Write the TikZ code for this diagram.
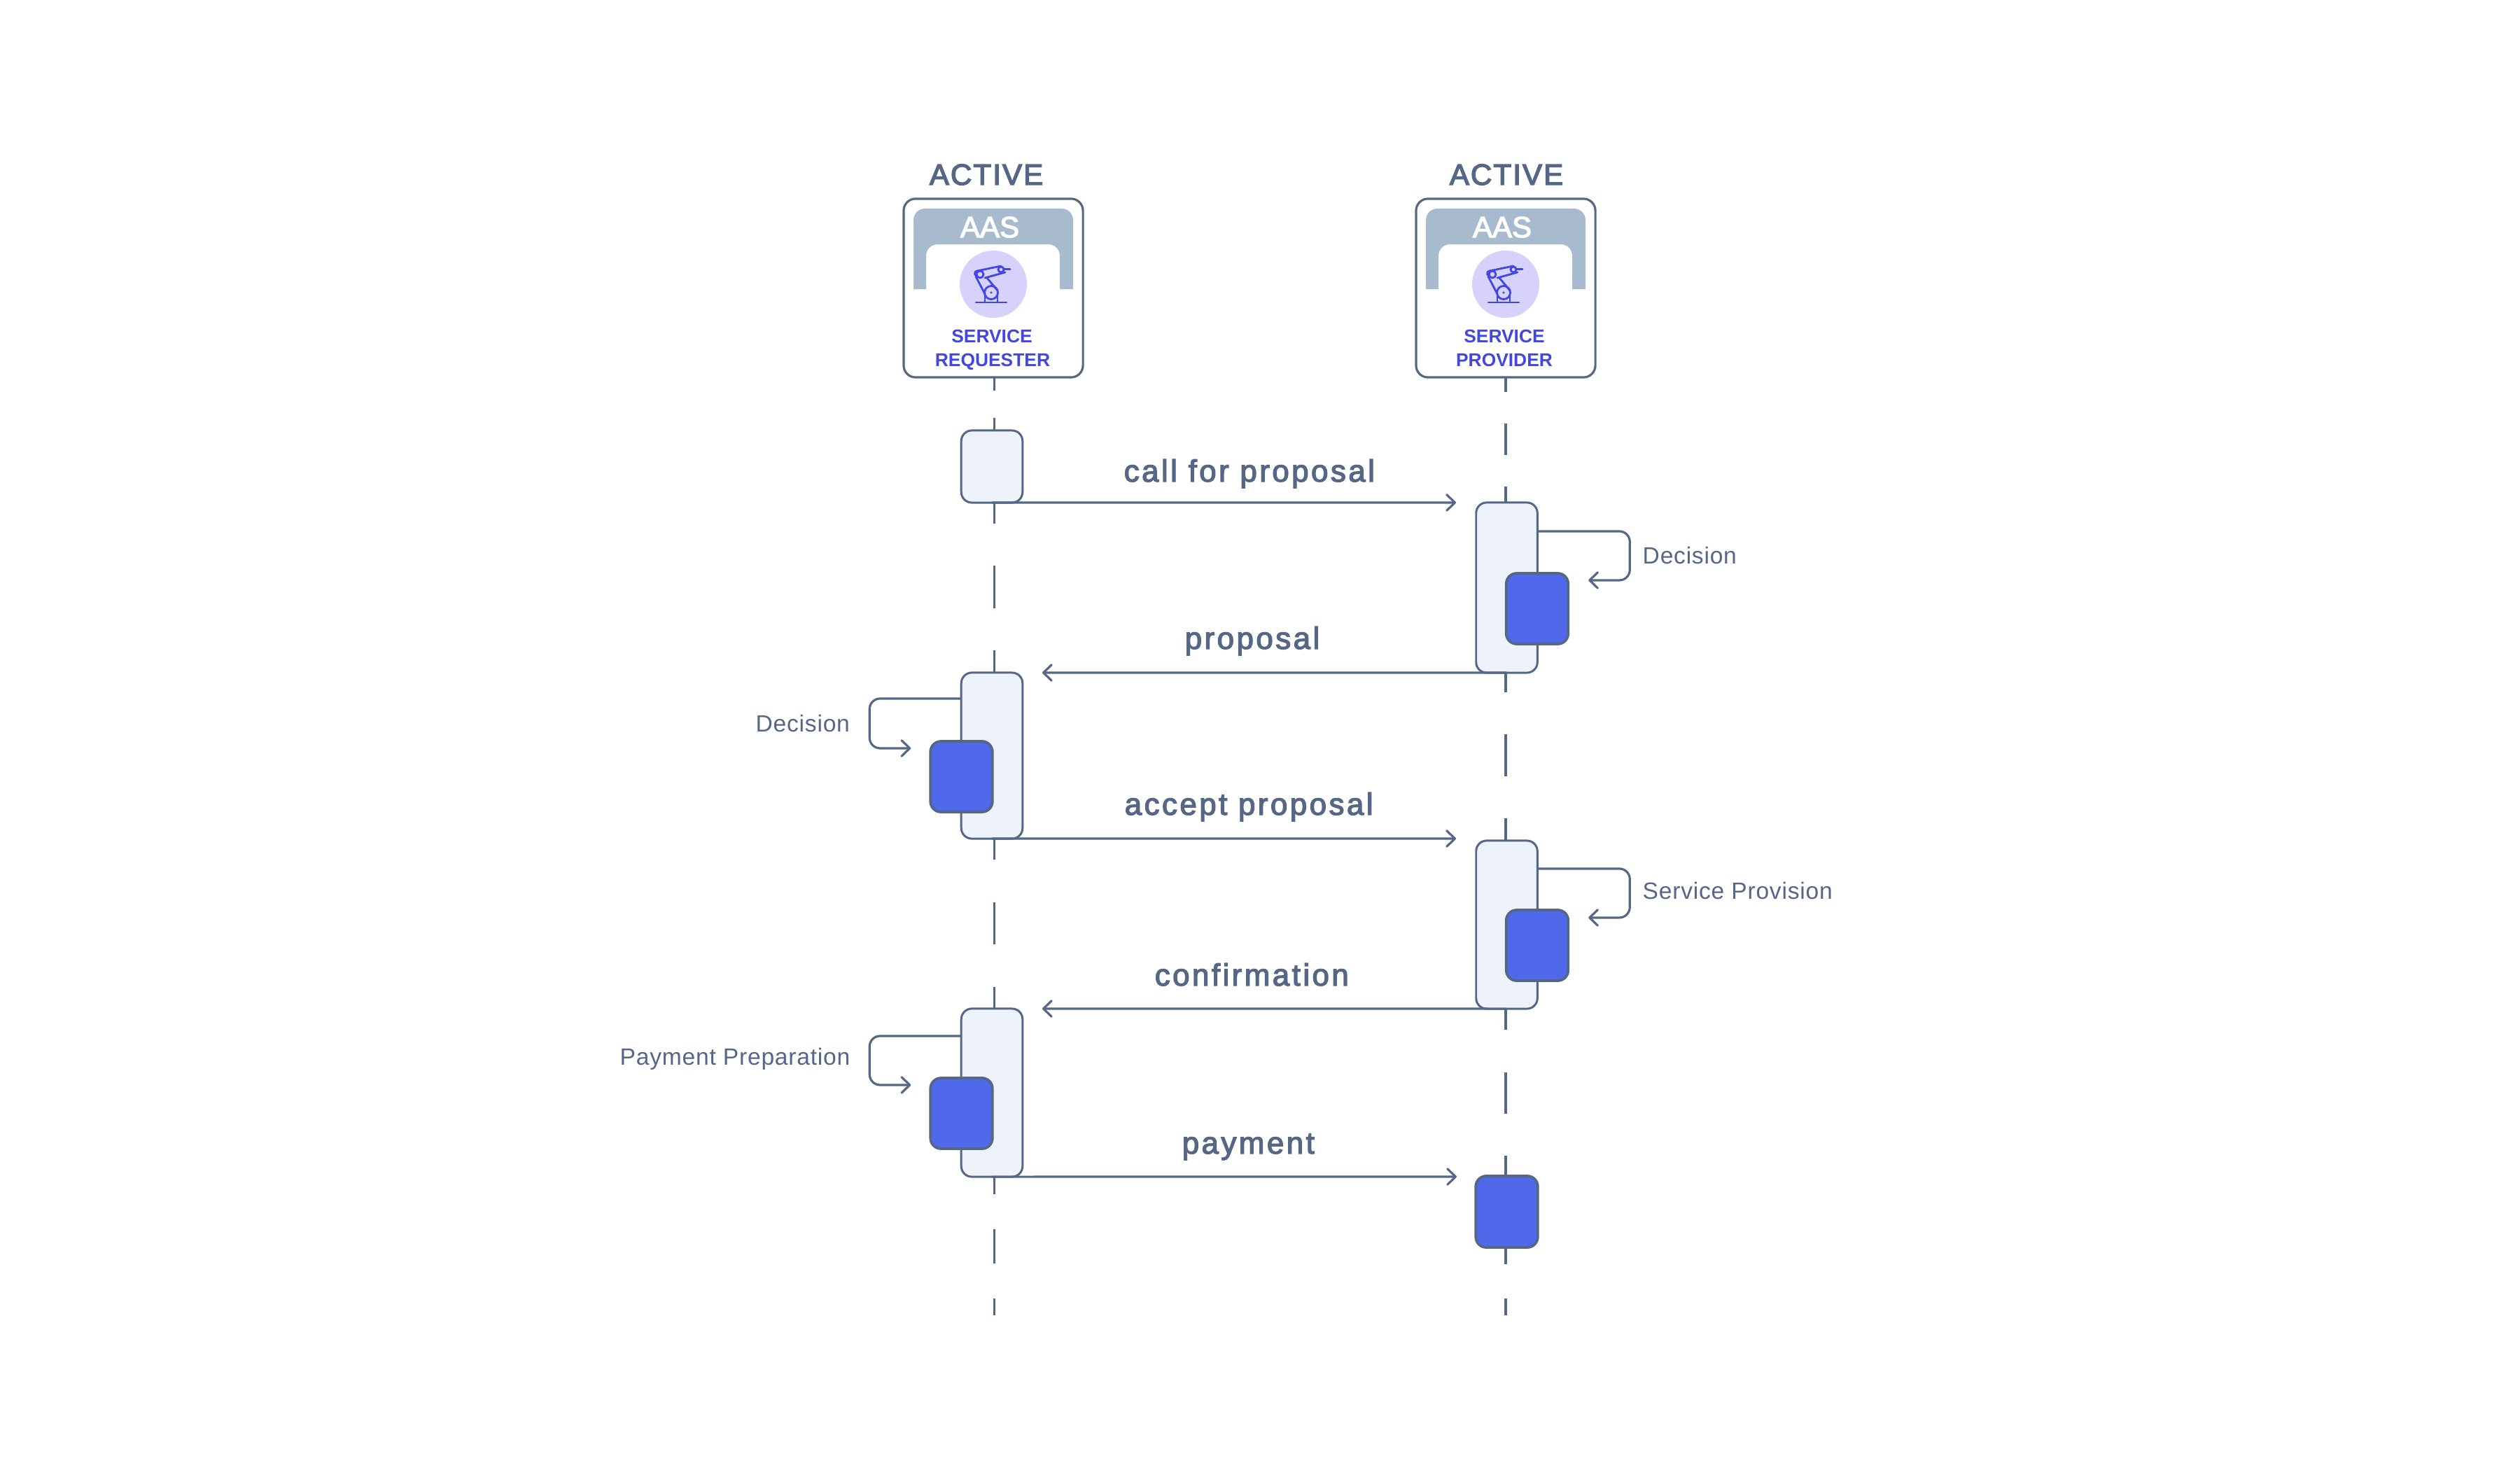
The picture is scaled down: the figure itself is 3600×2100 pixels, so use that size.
\documentclass[tikz,border=0pt]{standalone}
\usepackage{fontspec}
\usetikzlibrary{arrows.meta}
\setmainfont{Liberation Sans}
\newfontfamily\headfont[LetterSpace=5,FakeBold=3.5]{Liberation Sans}
\newfontfamily\aasfont[LetterSpace=0,FakeBold=3]{Liberation Sans}
\newfontfamily\msgfont[LetterSpace=7.8,FakeBold=3]{Liberation Sans}
\newfontfamily\notefont[LetterSpace=2.3]{Liberation Sans}
\newfontfamily\rolefont[LetterSpace=0]{Liberation Sans Bold}
\definecolor{ink}{HTML}{566786}
\definecolor{lightfill}{HTML}{EDF2FB}
\definecolor{bluefill}{HTML}{5068EA}
\definecolor{archfill}{HTML}{A8BACD}
\definecolor{discfill}{HTML}{D6D2FB}
\definecolor{roleblue}{HTML}{4347E0}
\tikzset{
  flow/.style={draw=ink,line width=0.9pt,-{Straight Barb[length=3.3pt,width=6.4pt,line width=0.9pt,round]}},
  lifeline/.style={draw=ink,line width=0.9pt},
  agentbox/.style={draw=ink,line width=0.9pt,fill=white,rounded corners=0.17cm,minimum width=2.56cm,minimum height=2.55cm,inner sep=0pt,outer sep=0pt},
  active/.style={draw=ink,line width=0.85pt,fill=lightfill,rounded corners=0.15cm,minimum width=0.875cm,inner sep=0pt,outer sep=0pt},
  work/.style={draw=ink,line width=1.05pt,fill=bluefill,rounded corners=0.15cm,minimum width=0.885cm,inner sep=0pt,outer sep=0pt},
  msg/.style={text=ink,anchor=base west,inner sep=0pt,font=\msgfont\fontsize{12.5pt}{15pt}\selectfont},
  note/.style={text=ink,anchor=base west,inner sep=0pt,font=\notefont\fontsize{9.55pt}{12pt}\selectfont},
  head/.style={text=ink,anchor=base,inner sep=0pt,font=\headfont\fontsize{11.95pt}{14pt}\selectfont},
  aas/.style={text=white,anchor=base,inner sep=0pt,font=\aasfont\fontsize{11.95pt}{14pt}\selectfont},
  role/.style={text=roleblue,anchor=base,inner sep=0pt,font=\rolefont\fontsize{7.5pt}{9pt}\selectfont},
}
\newcommand{\agentart}[1]{%
  \begin{scope}[shift={(#1,0)}]
    \fill[archfill] (1305,412) -- (1305,314) .. controls (1305,304) and (1312,297) .. (1322,297)
      -- (1516,297) .. controls (1526,297) and (1533,304) .. (1533,314) -- (1533,412) -- (1514,412)
      -- (1514,365) .. controls (1514,355) and (1507,348) .. (1497,348) -- (1340,348)
      .. controls (1330,348) and (1323,355) .. (1323,365) -- (1323,412) -- cycle;
    \fill[discfill] (1419,405) circle (0.48cm);
    \begin{scope}[draw=roleblue,line width=0.8pt,line cap=round,line join=round]
      \draw (1394,431) -- (1438,431);
      \draw (1407,431) -- (1407,418);
      \draw (1425,431) -- (1425,413);
      \draw (1416,417) circle (0.095cm);
      \draw (1394,394) -- (1407,419);
      \draw (1410,396) -- (1425,414);
      \draw (1400,391) circle (0.05cm);
      \draw (1430,384) circle (0.04cm);
      \draw (1407,396) -- (1436,388);
      \draw (1393,392) .. controls (1392,388) and (1393,387) .. (1396,386) -- (1430,379);
      \draw (1435,383.5) -- (1443,383.5);
    \end{scope}
    \fill[ink] (1416,417) circle (0.018cm);
  \end{scope}}
\begin{document}
\begin{tikzpicture}[x=0.01cm,y=-0.01cm]
\useasboundingbox (0,-1) rectangle (3600,2099);
\fill[white] (0,-1) rectangle (3600,2099);

% agents
\node[agentbox] (reqbox) at (1419,410.5) {};
\node[agentbox] (provbox) at (2151,410.5) {};
\agentart{0}
\agentart{732}
\node[head] (reqstate) at (1409,263) {ACTIVE};
\node[head] (provstate) at (2152,263) {ACTIVE};
\node[aas] (reqaas) at (1414,338) {AAS};
\node[aas] (provaas) at (2146,338) {AAS};
\node[role] (reqrole1) at (1417,488) {SERVICE};
\node[role] (reqrole2) at (1418,522) {REQUESTER};
\node[role] (provrole1) at (2149,488) {SERVICE};
\node[role] (provrole2) at (2149,522) {PROVIDER};

% lifelines
\coordinate (lifeLtop) at (1420.5,538);
\coordinate (lifeLend) at (1420.5,1878);
\coordinate (lifeRtop) at (2151,538);
\coordinate (lifeRend) at (2151,1878);
\draw[lifeline,dash pattern=on 0.19cm off 0.39cm on 1.51cm off 0.60cm on 0.61cm off 0.60cm on 2.99cm off 0.61cm on 0.60cm off 0.60cm on 2.96cm off 0.50cm on 0.49cm off 0.50cm on 0.25cm off 1cm] (lifeLtop) -- (lifeLend);
\draw[lifeline,dash pattern=on 0.21cm off 0.45cm on 0.45cm off 0.45cm on 2.94cm off 0.60cm on 0.60cm off 0.60cm on 3.01cm off 0.61cm on 0.59cm off 0.60cm on 1.55cm off 0.49cm on 0.25cm off 1cm] (lifeRtop) -- (lifeRend);

% activation blocks
\node[active,minimum height=1.03cm] (L1) at (1417,665.5) {};
\node[active,minimum height=2.43cm] (R1) at (2152.5,838.5) {};
\node[active,minimum height=2.37cm] (L2) at (1417,1078.5) {};
\node[active,minimum height=2.40cm] (R2) at (2152.5,1320) {};
\node[active,minimum height=2.40cm] (L3) at (1417,1560) {};

% self messages
\draw[flow,rounded corners=0.15cm] ([yshift=-0.41cm]R1.north east) -- ++(132,0) -- ++(0,70) -- ++(-59,0);
\draw[flow,rounded corners=0.15cm] ([yshift=-0.37cm]L2.north west) -- ++(-131,0) -- ++(0,71) -- ++(59,0);
\draw[flow,rounded corners=0.15cm] ([yshift=-0.40cm]R2.north east) -- ++(132,0) -- ++(0,70) -- ++(-59,0);
\draw[flow,rounded corners=0.15cm] ([yshift=-0.39cm]L3.north west) -- ++(-131,0) -- ++(0,70) -- ++(59,0);

% work blocks
\node[work,minimum height=1.01cm] (W1) at (2196,868.5) {};
\node[work,minimum height=1.01cm] (W2) at (1373.5,1108.5) {};
\node[work,minimum height=1.01cm] (W3) at (2196,1349.5) {};
\node[work,minimum height=1.01cm] (W4) at (1373.5,1589.5) {};
\node[work,minimum height=1.02cm] (W5) at (2152.5,1730) {};

% messages
\coordinate (tip1) at (2080,717);
\coordinate (tip2) at (1489,960);
\coordinate (tip3) at (2080,1197);
\coordinate (tip4) at (1489,1440);
\coordinate (tip5) at (2081,1680);
\draw[flow] (L1.south) -- (tip1);
\draw[flow] (R1.south) -- (tip2);
\draw[flow] (L2.south) -- (tip3);
\draw[flow] (R2.south) -- (tip4);
\draw[flow] (L3.south) -- (tip5);

\node[msg] (m1) at (1605,687) {call for proposal};
\node[msg] (m2) at (1692,926) {proposal};
\node[msg] (m3) at (1606,1163) {accept proposal};
\node[msg] (m4) at (1649,1407) {confirmation};
\node[msg] (m5) at (1688,1647) {payment};

\node[note] (n1) at (2346,804) {Decision};
\node[note] (n2) at (1079,1044) {Decision};
\node[note] (n3) at (2346,1283) {Service Provision};
\node[note] (n4) at (885,1520) {Payment Preparation};
\end{tikzpicture}
\end{document}
